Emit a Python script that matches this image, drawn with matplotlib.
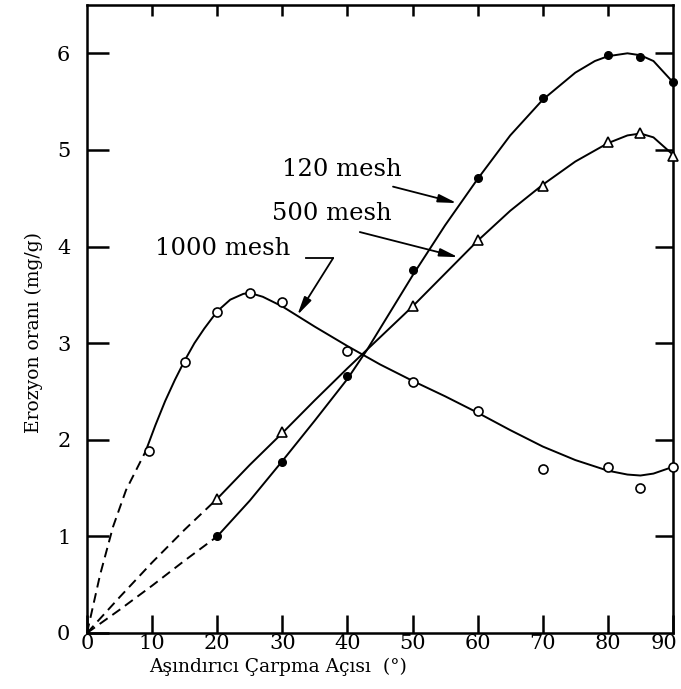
import matplotlib
matplotlib.use("Agg")
import matplotlib.pyplot as plt
import matplotlib.transforms as mtransforms

plt.rcParams['font.family'] = ['DejaVu Serif']

# ---- measured data points ----
x120 = [20, 30, 40, 50, 60, 70, 80, 85, 90]
y120 = [1.0, 1.77, 2.66, 3.76, 4.71, 5.54, 5.98, 5.96, 5.70]

x500 = [20, 30, 50, 60, 70, 80, 85, 90]
y500 = [1.39, 2.08, 3.38, 4.07, 4.63, 5.08, 5.17, 4.94]

x1000 = [9.5, 15, 20, 25, 30, 40, 50, 60, 70, 80, 85, 90]
y1000 = [1.88, 2.80, 3.32, 3.52, 3.43, 2.92, 2.60, 2.30, 1.70, 1.72, 1.50, 1.72]

# ---- fitted curves ----
c120_dash_x = [0, 5, 10, 15, 20]
c120_dash_y = [0, 0.24, 0.49, 0.75, 1.0]
c120_x = [20, 25, 30, 35, 40, 43, 45, 50, 55, 60, 65, 70, 75, 78, 80, 83, 85, 87, 90]
c120_y = [1.0, 1.37, 1.78, 2.2, 2.63, 2.93, 3.15, 3.7, 4.22, 4.7, 5.15, 5.52, 5.8, 5.92, 5.97, 6.0, 5.98, 5.92, 5.70]

c500_dash_x = [0, 5, 10, 15, 20]
c500_dash_y = [0, 0.37, 0.73, 1.07, 1.39]
c500_x = [20, 25, 30, 35, 40, 45, 50, 55, 60, 65, 70, 75, 80, 83, 85, 87, 90]
c500_y = [1.39, 1.74, 2.07, 2.41, 2.74, 3.06, 3.38, 3.72, 4.06, 4.37, 4.64, 4.88, 5.07, 5.15, 5.17, 5.13, 4.95]

c1000_dash_x = [0, 2, 4, 6, 9]
c1000_dash_y = [0, 0.6, 1.1, 1.48, 1.88]
c1000_x = [9, 10.5, 12, 13.5, 15, 16.5, 18, 20, 22, 24, 25, 27, 30, 35, 40, 45, 50, 55, 60, 65, 70, 75, 80, 83, 85, 87, 90]
c1000_y = [1.88, 2.15, 2.4, 2.62, 2.82, 3.0, 3.15, 3.33, 3.45, 3.51, 3.52, 3.48, 3.38, 3.17, 2.97, 2.78, 2.61, 2.45, 2.28, 2.1, 1.93, 1.79, 1.68, 1.64, 1.63, 1.65, 1.72]

xticks = [0, 10, 20, 30, 40, 50, 60, 70, 80, 90]
yticks = [0, 1, 2, 3, 4, 5, 6]

fig = plt.figure(figsize=(6.81, 6.89), dpi=100)
ax = fig.add_axes([87/681, 56/689, 586/681, 628/689])

lw = 1.4
for cx, cy in [(c120_dash_x, c120_dash_y), (c500_dash_x, c500_dash_y), (c1000_dash_x, c1000_dash_y)]:
    ax.plot(cx, cy, color='black', lw=lw, linestyle=(0, (5, 3)), clip_on=False)
for cx, cy in [(c120_x, c120_y), (c500_x, c500_y), (c1000_x, c1000_y)]:
    ax.plot(cx, cy, color='black', lw=lw, clip_on=False, solid_joinstyle='round')

ax.plot(x120, y120, 'o', color='black', ms=5.5, clip_on=False, zorder=5)
ax.plot(x500, y500, '^', mfc='white', mec='black', mew=1.2, ms=7, clip_on=False, zorder=5)
ax.plot(x1000, y1000, 'o', mfc='white', mec='black', mew=1.2, ms=6.5, clip_on=False, zorder=5)

# annotations
fs_ann = 17.5
astyle = '-|>,head_length=1.0,head_width=0.22'
aprops = dict(arrowstyle=astyle, lw=1.3, color='black', mutation_scale=11,
              shrinkA=0, shrinkB=0)
ax.text(29.9, 4.80, '120 mesh', fontsize=fs_ann, ha='left', va='center')
ax.annotate('', xy=(56.8, 4.45), xytext=(47.0, 4.62), arrowprops=aprops)
ax.text(28.4, 4.34, '500 mesh', fontsize=fs_ann, ha='left', va='center')
ax.annotate('', xy=(57.0, 3.89), xytext=(41.9, 4.15), arrowprops=aprops)
ax.text(10.4, 3.98, '1000 mesh', fontsize=fs_ann, ha='left', va='center')
ax.plot([33.6, 37.8], [3.88, 3.88], color='black', lw=1.3)
ax.annotate('', xy=(32.3, 3.29), xytext=(37.8, 3.88), arrowprops=aprops)

ax.set_xlim(0, 90)
ax.set_ylim(0, 6.5)
ax.set_xticks(xticks)
ax.set_yticks(yticks)
ax.tick_params(axis='x', direction='in', length=13, width=1.8, labelsize=15, pad=1)
ax.tick_params(axis='y', direction='in', length=16, width=1.8, labelsize=15, pad=12)
for s in ax.spines.values():
    s.set_linewidth(1.8)

# last x tick label sits a little left of its tick, as in the source
last = ax.get_xticklabels()[-1]
last.set_transform(last.get_transform() +
                   mtransforms.ScaledTranslation(-9/100, 0, fig.dpi_scale_trans))

# top and right ticks
tx = ax.secondary_xaxis('top')
tx.set_xticks(xticks[1:-1])
tx.tick_params(direction='in', length=8, width=1.8, labeltop=False)
ry = ax.secondary_yaxis('right')
ry.set_yticks(yticks[1:])
ry.tick_params(direction='in', length=13, width=1.8, labelright=False)

ax.set_xlabel('Aşındırıcı Çarpma Açısı  (°)', fontsize=13.5)
ax.xaxis.set_label_coords(0.326, -0.040)
ax.set_ylabel('Erozyon oranı (mg/g)', fontsize=13.5)
ax.yaxis.set_label_coords(-0.075, 0.478)

fig.savefig('out.png', dpi=100)
